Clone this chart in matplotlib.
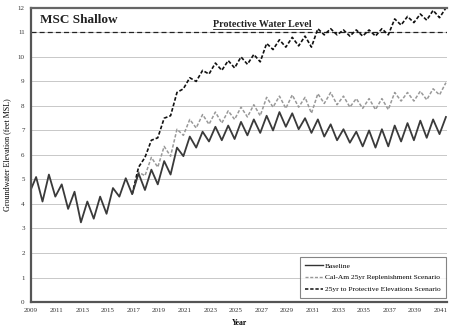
import numpy as np
import matplotlib
matplotlib.use("Agg")
import matplotlib.pyplot as plt
from matplotlib.lines import Line2D

# Seasonal high / low readings (spring high near x.4, winter low near x.9)
base_t = [2009.0] + [y + d for y in range(2009, 2041) for d in (0.4, 0.9)] + [2041.4]
baseline = [4.6,
            5.1, 4.1, 5.2, 4.3, 4.8, 3.8, 4.5, 3.25, 4.1, 3.4,
            4.3, 3.6, 4.65, 4.3, 5.05, 4.4, 5.25, 4.57, 5.4, 4.8,
            5.75, 5.2, 6.3, 5.95, 6.75, 6.3, 6.95, 6.55, 7.15, 6.6,
            7.2, 6.65, 7.35, 6.8, 7.45, 6.9, 7.6, 7.0, 7.75, 7.15,
            7.7, 7.05, 7.5, 6.9, 7.45, 6.75, 7.25, 6.6, 7.05, 6.5,
            6.95, 6.35, 7.0, 6.3, 7.05, 6.35, 7.2, 6.55, 7.3, 6.6,
            7.4, 6.7, 7.45, 6.85,
            7.55]

scen_t = [2016.9] + [y + d for y in range(2017, 2041) for d in (0.4, 0.9)] + [2041.4]
calam = [4.4,
         5.3, 5.15, 5.9, 5.5, 6.35, 5.95, 7.05, 6.8, 7.45, 7.1,
         7.65, 7.25, 7.75, 7.3, 7.8, 7.45, 7.95, 7.55, 8.05, 7.6,
         8.35, 7.95, 8.4, 7.9, 8.45, 7.95, 8.35, 7.7, 8.5, 8.1,
         8.55, 8.05, 8.4, 7.95, 8.3, 7.9, 8.3, 7.85, 8.3, 7.85,
         8.55, 8.2, 8.55, 8.2, 8.6, 8.25, 8.7, 8.45,
         8.95]
protective = [4.4,
              5.5, 5.9, 6.6, 6.7, 7.5, 7.6, 8.55, 8.7, 9.15, 9.0,
              9.45, 9.3, 9.75, 9.45, 9.85, 9.55, 10.0, 9.7, 10.1, 9.8,
              10.55, 10.3, 10.7, 10.4, 10.8, 10.45, 10.85, 10.4, 11.15, 10.9,
              11.15, 10.9, 11.1, 10.85, 11.1, 10.85, 11.1, 10.85, 11.15, 10.9,
              11.55, 11.3, 11.65, 11.4, 11.75, 11.5, 11.9, 11.6,
              12.0]

protective_level = 11
year_ticks = list(range(2009, 2042, 2))
elev_ticks = list(range(0, 13))

plt.rcParams["font.family"] = ["Liberation Serif", "DejaVu Serif"]

fig = plt.figure(figsize=(4.49, 3.29), dpi=100)
ax = fig.add_axes([0.069, 0.082, 0.927, 0.894])

ax.set_xlim(2009, 2041.5)
ax.set_ylim(0, 12)
ax.set_xticks(year_ticks)
ax.set_yticks(elev_ticks)
ax.tick_params(axis="both", length=0, labelsize=5, colors="#333333", pad=4.5)
ax.grid(axis="y", color="#c8c8c8", linewidth=0.7)
ax.set_axisbelow(True)

for side in ("left", "bottom"):
    ax.spines[side].set_color("#555555")
    ax.spines[side].set_linewidth(1.6)
ax.spines["top"].set_color("#666666")
ax.spines["top"].set_linewidth(1.6)
ax.spines["right"].set_visible(False)

ax.axhline(protective_level, color="#222222", linewidth=0.9, dashes=(4, 2.5))

ax.plot(scen_t, calam, color="#999999", linewidth=1.1, dashes=(2.2, 1.2))
ax.plot(scen_t, protective, color="#111111", linewidth=1.2, dashes=(2.2, 1.2))
ax.plot(base_t, baseline, color="#3a3a3a", linewidth=1.3, solid_joinstyle="round")

ax.text(2009.7, 11.5, "MSC Shallow", fontsize=9.5, fontweight="bold", color="#222222",
        va="center", ha="left")
plw = ax.text(2027.05, 11.13, "Protective Water Level", fontsize=7.2, fontweight="bold",
              color="#222222", ha="center", va="bottom")

ax.set_xlabel("Year", fontsize=5.5, fontweight="bold", labelpad=4)
ax.set_ylabel("Groundwater Elevation (feet MSL)", fontsize=5.8, labelpad=4.5)

handles = [Line2D([], [], color="#333333", linewidth=1.0),
           Line2D([], [], color="#999999", linewidth=1.0, dashes=(2.2, 1.2)),
           Line2D([], [], color="#111111", linewidth=1.1, dashes=(2.2, 1.2))]
labels = ["Baseline", "Cal-Am 25yr Replenishment Scenario",
          "25yr to Protective Elevations Scenario"]
leg = ax.legend(handles, labels, loc="lower right", bbox_to_anchor=(1.0, 0.01),
                fontsize=5.4, frameon=True, fancybox=False, handlelength=2.4,
                handletextpad=0.2, labelspacing=0.75, borderpad=0.7, borderaxespad=0.2)
leg.get_frame().set_edgecolor("#666666")
leg.get_frame().set_linewidth(0.8)

# underline the protective level caption
fig.canvas.draw()
bb = plw.get_window_extent(fig.canvas.get_renderer())
inv = ax.transData.inverted()
(x0, y0), (x1, _) = inv.transform([(bb.x0, bb.y0 + 0.5), (bb.x1, bb.y0 + 0.5)])
ax.plot([x0, x1], [y0, y0], color="#222222", linewidth=0.6)

fig.savefig("out.png", dpi=100)
